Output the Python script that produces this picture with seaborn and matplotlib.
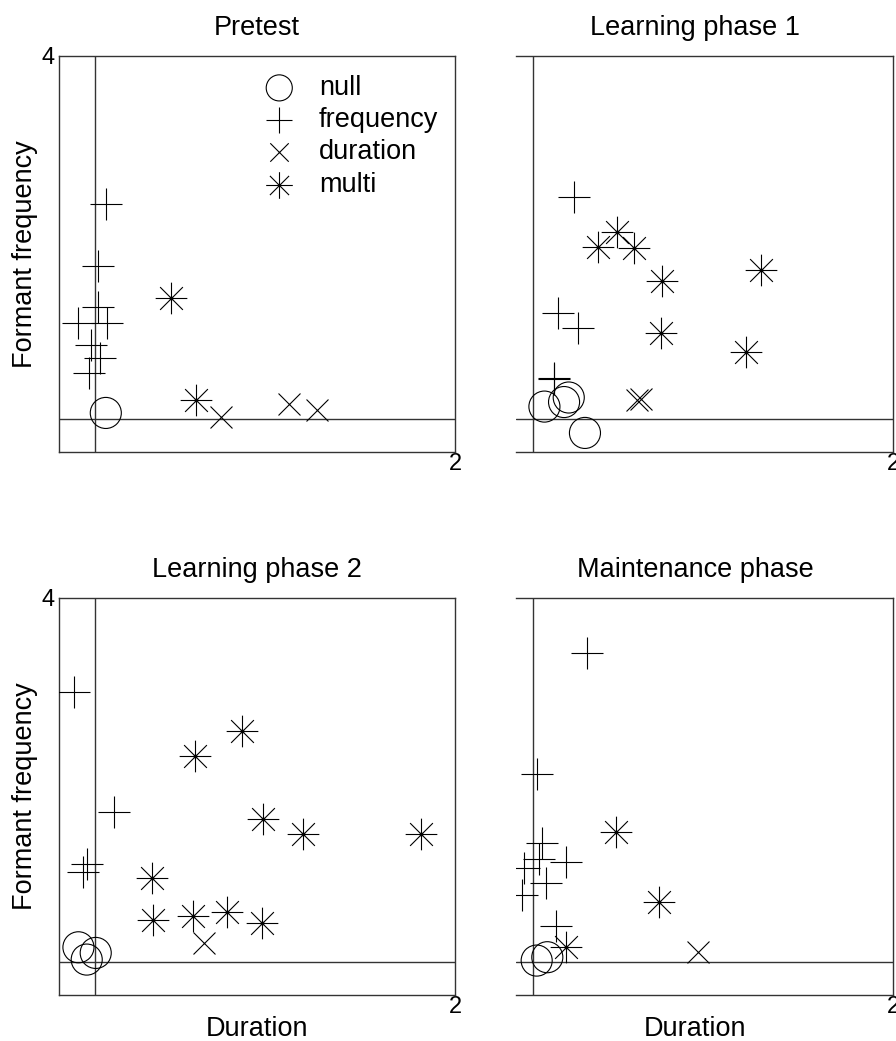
import numpy as np
import pandas as pd
import matplotlib
matplotlib.use("Agg")
import matplotlib.pyplot as plt
from matplotlib.path import Path
import seaborn as sns

# ---------------- data ----------------
categories = ["null", "frequency", "duration", "multi"]
phases = ["Pretest", "Learning phase 1", "Learning phase 2", "Maintenance phase"]

pre_null_x = [0.06]
pre_null_y = [0.07]
pre_freq_x = [0.063, 0.019, 0.019, -0.094, 0.069, -0.020, 0.028, -0.031]
pre_freq_y = [2.365, 1.687, 1.24, 1.056, 1.056, 0.818, 0.671, 0.506]
pre_dur_x = [0.70, 1.08, 1.235]
pre_dur_y = [0.03, 0.17, 0.10]
pre_multi_x = [0.42, 0.56]
pre_multi_y = [1.34, 0.21]

lp1_null_x = [0.065, 0.174, 0.20, 0.29]
lp1_null_y = [0.14, 0.19, 0.24, -0.15]
lp1_freq_x = [0.23, 0.143, 0.25, 0.12, 0.12]
lp1_freq_y = [2.45, 1.17, 1.0, 0.46, 0.44]
lp1_dur_x = [0.58, 0.60]
lp1_dur_y = [0.21, 0.22]
lp1_multi_x = [0.365, 0.47, 0.563, 0.72, 0.713, 1.269, 1.183]
lp1_multi_y = [1.90, 2.06, 1.89, 1.52, 0.95, 1.64, 0.74]

lp2_null_x = [-0.092, 0.004, -0.046]
lp2_null_y = [0.164, 0.102, 0.029]
lp2_freq_x = [-0.116, 0.105, -0.042, -0.065]
lp2_freq_y = [2.964, 1.648, 1.083, 0.992]
lp2_dur_x = [0.608]
lp2_dur_y = [0.211]
lp2_multi_x = [0.558, 0.814, 0.934, 1.154, 1.81, 0.318, 0.323, 0.545, 0.735, 0.929]
lp2_multi_y = [2.261, 2.541, 1.575, 1.404, 1.404, 0.93, 0.467, 0.51, 0.554, 0.427]

mt_null_x = [0.022, 0.081]
mt_null_y = [0.018, 0.055]
mt_freq_x = [0.30, 0.022, 0.05, 0.037, 0.185, 0.072, -0.061, -0.046, 0.129]
mt_freq_y = [3.398, 2.068, 1.305, 1.138, 1.10, 0.875, 0.736, 1.03, 0.394]
mt_dur_x = [0.917]
mt_dur_y = [0.109]
mt_multi_x = [0.462, 0.699, 0.185]
mt_multi_y = [1.433, 0.664, 0.171]

x_tick = [2]
y_tick = [4]

panel_data = {
    "Pretest": [(pre_null_x, pre_null_y), (pre_freq_x, pre_freq_y),
                (pre_dur_x, pre_dur_y), (pre_multi_x, pre_multi_y)],
    "Learning phase 1": [(lp1_null_x, lp1_null_y), (lp1_freq_x, lp1_freq_y),
                         (lp1_dur_x, lp1_dur_y), (lp1_multi_x, lp1_multi_y)],
    "Learning phase 2": [(lp2_null_x, lp2_null_y), (lp2_freq_x, lp2_freq_y),
                         (lp2_dur_x, lp2_dur_y), (lp2_multi_x, lp2_multi_y)],
    "Maintenance phase": [(mt_null_x, mt_null_y), (mt_freq_x, mt_freq_y),
                          (mt_dur_x, mt_dur_y), (mt_multi_x, mt_multi_y)],
}

rows = []
for ph in phases:
    for cat, (xs, ys) in zip(categories, panel_data[ph]):
        for xv, yv in zip(xs, ys):
            rows.append({"phase": ph, "category": cat, "Duration": xv,
                         "Formant frequency": yv})
df = pd.DataFrame(rows)

# ---------------- style ----------------
sns.set_style("white")
plt.rcParams["font.family"] = ["Liberation Sans", "DejaVu Sans"]
plt.rcParams["text.color"] = "black"
plt.rcParams["axes.labelcolor"] = "black"
plt.rcParams["xtick.color"] = "black"
plt.rcParams["ytick.color"] = "black"

LC = "#333333"

# asterisk marker with centre dot
d = 0.72
verts = [(0, -1), (0, 1), (-1, 0), (1, 0), (-d, -d), (d, d), (-d, d), (d, -d)]
codes = [Path.MOVETO, Path.LINETO] * 4
circ = Path.unit_circle()
cv = circ.vertices * 0.08
verts = verts + [tuple(v) for v in cv]
codes = codes + list(circ.codes)
star = Path(verts, codes)

marker_kw = {
    "null": dict(marker="o", s=500, facecolor="none", edgecolor="k", linewidth=0.8),
    "frequency": dict(marker="+", s=500, color="k", linewidth=0.8),
    "duration": dict(marker="x", s=250, color="k", linewidth=0.8),
    "multi": dict(marker=star, s=520, facecolor="k", edgecolor="k", linewidth=0.8),
}

W, H = 896, 1041
fig = plt.figure(figsize=(W / 100, H / 100), dpi=100)

left_l, left_r = 59, 455
right_l, right_r = 516, 893
top_t, top_b = 56, 452
bot_t, bot_b = 598, 995

def fr(l, r, t, b):
    return [l / W, 1 - b / H, (r - l) / W, (b - t) / H]

pos = {
    "Pretest": fr(left_l, left_r, top_t, top_b),
    "Learning phase 1": fr(right_l, right_r, top_t, top_b),
    "Learning phase 2": fr(left_l, left_r, bot_t, bot_b),
    "Maintenance phase": fr(right_l, right_r, bot_t, bot_b),
}

FS = 19.5
for i, ph in enumerate(phases):
    ax = fig.add_axes(pos[ph])
    is_right = i % 2 == 1
    is_bottom = i >= 2
    sub = df[df["phase"] == ph]
    ax.axhline(0, color=LC, lw=1.0, zorder=1)
    ax.axvline(0, color=LC, lw=1.0, zorder=1)
    for cat in categories:
        d_ = sub[sub["category"] == cat]
        sns.scatterplot(data=d_, x="Duration", y="Formant frequency", ax=ax,
                        label=cat, legend=False, zorder=3, **marker_kw[cat])
    ax.set_ylim(-0.36, 4)
    if is_right:
        ax.set_xlim(-(532.7 - right_l) / 180.0, 2)
    else:
        ax.set_xlim(-0.2, 2)
    ax.set_xticks(x_tick)
    ax.set_xticklabels([str(v) for v in x_tick], fontsize=17)
    if is_right:
        ax.set_yticks([])
        ax.spines["left"].set_visible(False)
    else:
        ax.set_yticks(y_tick)
        ax.set_yticklabels([str(v) for v in y_tick], fontsize=17)
    ax.tick_params(length=0, pad=1)
    ax.tick_params(axis="y", pad=3)
    for s in ax.spines.values():
        s.set_color(LC)
        s.set_linewidth(1.0)

    tx = 0.5 if not is_right else ((695 - right_l) / (right_r - right_l))
    ax.set_title(ph, fontsize=FS, x=tx, pad=15)

    if is_bottom:
        ax.set_xlabel("Duration", fontsize=FS)
        ax.xaxis.set_label_coords(tx, -0.053)
    else:
        ax.set_xlabel("")
    if not is_right:
        ax.set_ylabel("Formant frequency", fontsize=FS)
        ax.yaxis.set_label_coords(-0.052, 0.5)
    else:
        ax.set_ylabel("")

    if i == 0:
        ax.legend(loc="upper left", bbox_to_anchor=((263 - left_l) / 396, 1 - (75 - top_t) / 396),
                  frameon=False, fontsize=FS, markerscale=0.84, labelspacing=0.23,
                  handletextpad=0.86, borderpad=0, borderaxespad=0, handlelength=1.2)

fig.savefig("out.png", dpi=100)
